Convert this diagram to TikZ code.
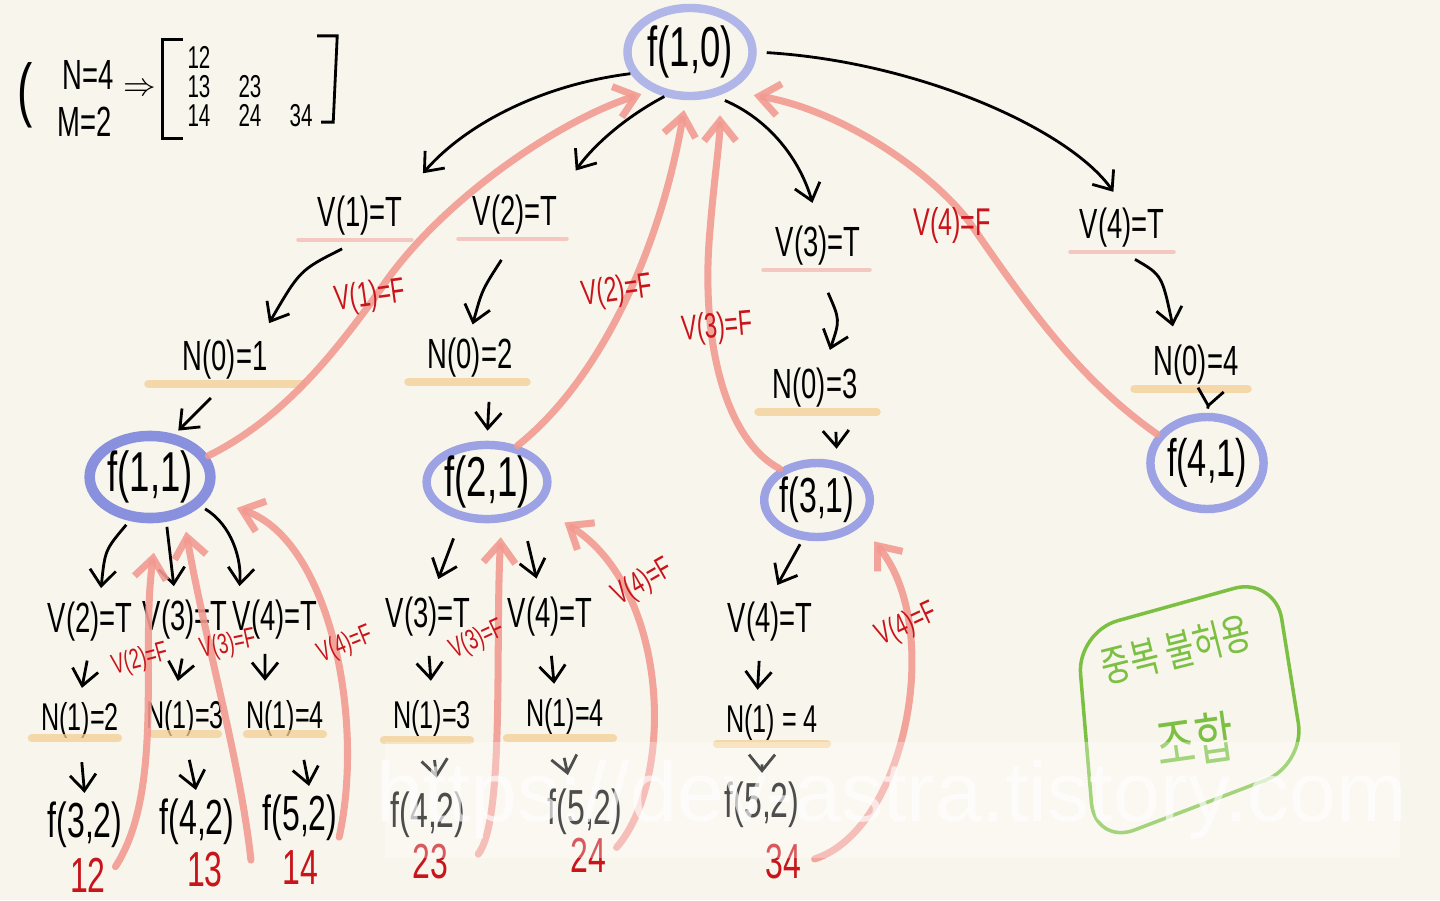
\documentclass[tikz,border=0pt]{standalone}
\usepackage{fontspec}
\usepackage{xcolor}
\usetikzlibrary{arrows.meta, shapes.geometric}
\setmainfont{Liberation Sans}
\newfontfamily\hand{Liberation Sans}[FakeStretch=0.65]
\newfontfamily\kor{Noto Sans CJK KR}[FakeStretch=0.75]
\definecolor{paper}{HTML}{F8F6EC}
\definecolor{callblue}{HTML}{B1B6E8}
\definecolor{calldeep}{HTML}{8990DD}
\definecolor{callmid}{HTML}{9CA2E3}
\definecolor{backred}{HTML}{F29A92}
\definecolor{inkred}{HTML}{C8141A}
\definecolor{markpink}{HTML}{F3BDB6}
\definecolor{markorange}{HTML}{F4CE93}
\definecolor{boxgreen}{HTML}{7CC043}

\begin{document}
\begin{tikzpicture}[x=0.01cm, y=-0.01cm,
  call/.style={ellipse, draw=callmid, line width=2.4pt, inner sep=0pt,
    font=\hand\fontsize{16}{16}\selectfont},
  cond/.style={inner sep=1pt, font=\hand\fontsize{12}{12}\selectfont},
  count/.style={cond, font=\hand\fontsize{11}{11}\selectfont},
  leaf/.style={cond, font=\hand\fontsize{14}{14}\selectfont},
  flag/.style={inner sep=0pt, text=inkred, font=\hand\fontsize{10}{10}\selectfont},
  smallflag/.style={flag, font=\hand\fontsize{8}{8}\selectfont},
  pick/.style={inner sep=1pt, text=inkred, font=\hand\fontsize{14}{14}\selectfont},
  arrow/.style={-{Straight Barb[length=1.6mm, width=2.6mm]}, line width=0.8pt},
  back/.style={draw=backred, line width=2pt, line cap=round, opacity=0.9,
    -{Straight Barb[length=2mm, width=3.2mm]}},
  tmark/.style={markpink, line width=1.3pt, line cap=round, opacity=0.8},
  nmark/.style={markorange, line width=2.4pt, line cap=round, opacity=0.75},
  kortext/.style={inner sep=0pt, text=boxgreen, font=\kor\fontsize{12}{12}\selectfont}
]
\fill[paper] (0,0) rectangle (1440,900);
\useasboundingbox (0,0) rectangle (1440,900);

% N, M and the list of picks
\node[cond, font=\hand\fontsize{20}{20}\selectfont] (paren) at (25,95) {(};
\node[cond] (nval) at (88,75) {N=4};
\node[cond] (mval) at (85,122) {M=2};
\node[inner sep=0pt, font=\fontsize{9}{9}\selectfont] (gives) at (140,90) {$\Rightarrow$};
\node[inner sep=0pt, font=\hand\fontsize{9}{6.5}\selectfont] (combos) at (250,90)
  {\setlength{\tabcolsep}{4pt}\begin{tabular}{lll}12\\13&23\\14&24&34\end{tabular}};
\draw[line width=0.8pt] ([shift={(1mm,0.6mm)}]combos.north west) -- ([shift={(-1mm,0.6mm)}]combos.north west)
  -- ([shift={(-1mm,-0.4mm)}]combos.south west) -- ([shift={(1mm,-0.4mm)}]combos.south west);
\draw[line width=0.8pt] ([shift={(-1mm,1mm)}]combos.north east) -- ([shift={(1mm,1mm)}]combos.north east)
  -- ([shift={(0.6mm,1.2mm)}]combos.south east) -- ([shift={(-0.6mm,1.2mm)}]combos.south east);

% calls
\node[call, draw=callblue, minimum width=1.25cm, minimum height=0.88cm] (f10) at (690,52) {f(1,0)};
\node[call, draw=calldeep, line width=3pt, minimum width=1.1cm, minimum height=0.82cm] (f11) at (150,477) {f(1,1)};
\node[call, minimum width=1.15cm, minimum height=0.72cm] (f21) at (487,482) {f(2,1)};
\node[call, font=\hand\fontsize{14}{14}\selectfont, minimum width=1cm, minimum height=0.74cm] (f31) at (817,500) {f(3,1)};
\node[call, font=\hand\fontsize{15}{15}\selectfont, minimum width=1.12cm, minimum height=0.92cm] (f41) at (1207,463) {f(4,1)};

% first choices
\node[cond] (v1) at (360,216) {V(1)=T};
\node[cond] (v2) at (515,215) {V(2)=T};
\node[cond] (v3) at (818,246) {V(3)=T};
\node[cond] (v4) at (1122,228) {V(4)=T};
\node[cond] (n01) at (225,360) {N(0)=1};
\node[cond] (n02) at (470,358) {N(0)=2};
\node[cond] (n03) at (815,388) {N(0)=3};
\node[cond] (n04) at (1196,365) {N(0)=4};

\draw[tmark] ([xshift=-1.5mm]v1.south west) -- ([xshift=0.5mm]v1.south east);
\draw[tmark] ([xshift=-1mm]v2.south west) -- ([xshift=0.5mm]v2.south east);
\draw[tmark] ([xshift=-0.8mm]v3.south west) -- ([xshift=0.5mm]v3.south east);
\draw[tmark] ([xshift=-0.5mm]v4.south west) -- ([xshift=0.5mm]v4.south east);
\draw[nmark] ([xshift=-3mm]n01.south west) -- ([xshift=3mm]n01.south east);
\draw[nmark] ([xshift=-1.5mm]n02.south west) -- ([xshift=1mm]n02.south east);
\draw[nmark] ([xshift=-1mm]n03.south west) -- ([xshift=1.5mm]n03.south east);
\draw[nmark] ([xshift=-1.5mm]n04.south west) -- ([xshift=0.5mm]n04.south east);

\draw[arrow, shorten >=2.5mm] (f10.200) .. controls (540,85) and (465,125) .. (v1.north east);
\draw[arrow, shorten >=2.5mm] (f10.240) .. controls (620,120) and (590,150) .. (v2.north east);
\draw[arrow, shorten <=1mm, shorten >=2mm] (f10.300) .. controls (770,120) and (800,160) .. (v3.north);
\draw[arrow, shorten <=1mm, shorten >=1.5mm] (f10.east) .. controls (920,62) and (1070,130) .. (v4.north);
\draw[arrow, shorten <=2mm, shorten >=1.5mm] (v1.south) .. controls (300,270) .. ([xshift=-1mm]n01.north east);
\draw[arrow, shorten <=2.5mm, shorten >=1mm] (v2.south) .. controls (482,290) .. (n02.north);
\draw[arrow, shorten <=2.5mm, shorten >=1.5mm] (v3.south) .. controls (840,320) .. ([xshift=1mm]n03.north);
\draw[arrow, shorten <=1.5mm, shorten >=1.5mm] (v4.south) .. controls (1162,275) .. ([xshift=-2mm]n04.north);
\draw[arrow, shorten <=2mm, shorten >=0.5mm] (n01.south) -- (f11.60);
\draw[arrow, shorten <=2mm, shorten >=1mm] ([xshift=2mm]n02.south) -- (f21.north);
\draw[arrow, shorten <=2mm, shorten >=1mm] ([xshift=2mm]n03.south) -- ([xshift=2mm]f31.north);
\draw[arrow, shorten <=2mm, shorten >=0.5mm] ([xshift=1.5mm]n04.south) -- (f41.north);

% back to f(1,0)
\draw[back, shorten >=1mm] (f11.20) .. controls (280,420) and (330,360) .. (380,290)
  .. controls (440,200) and (560,120) .. (f10.225);
\draw[back, shorten >=1mm] (f21.50) .. controls (600,380) and (660,250) .. (f10.265);
\draw[back, shorten >=1.5mm] (f31.140) .. controls (725,440) and (700,340) .. (710,230)
  .. controls (714,180) and (720,140) .. ([xshift=3mm]f10.south);
\draw[back, shorten >=2.5mm] (f41.150) .. controls (1080,380) and (1030,310) .. (970,223)
  .. controls (930,170) and (840,110) .. (f10.315);
\node[flag, rotate=8] (b1) at (370,297) {V(1)=F};
\node[flag, rotate=8] (b2) at (617,292) {V(2)=F};
\node[flag, rotate=5] (b3) at (717,328) {V(3)=F};
\node[flag, font=\hand\fontsize{11}{11}\selectfont] (b4) at (952,225) {V(4)=F};

% second choices under f(1,1)
\node[cond] (v12) at (90,622) {V(2)=T};
\node[cond] (v13) at (185,620) {V(3)=T};
\node[cond] (v14) at (275,620) {V(4)=T};
\node[count] (n12) at (80,720) {N(1)=2};
\node[count] (n13) at (185,718) {N(1)=3};
\node[count] (n14) at (285,718) {N(1)=4};
\node[leaf] (f32) at (85,825) {f(3,2)};
\node[leaf] (f42a) at (197,822) {f(4,2)};
\node[leaf] (f52a) at (300,818) {f(5,2)};
\node[pick] (c12) at (88,875) {12};
\node[pick] (c13) at (205,870) {13};
\node[pick] (c14) at (300,868) {14};

% second choices under f(2,1)
\node[cond] (v23) at (428,617) {V(3)=T};
\node[cond] (v24) at (550,617) {V(4)=T};
\node[count] (n23) at (432,718) {N(1)=3};
\node[count] (n24) at (565,716) {N(1)=4};
\node[leaf] (f42b) at (428,815) {f(4,2)};
\node[leaf] (f52b) at (585,812) {f(5,2)};
\node[pick] (c23) at (430,862) {23};
\node[pick] (c24) at (588,855) {24};

% second choice under f(3,1)
\node[cond] (v34) at (770,622) {V(4)=T};
\node[count] (n34) at (772,722) {N(1) = 4};
\node[leaf] (f52c) at (762,805) {f(5,2)};
\node[pick] (c34) at (783,862) {34};

\draw[nmark] ([xshift=-0.5mm,yshift=0.4mm]n12.south west) -- ([xshift=-0.5mm,yshift=0.4mm]n12.south east);
\draw[nmark] ([xshift=1mm,yshift=0.6mm]n13.south west) -- ([xshift=-1mm,yshift=0.6mm]n13.south east);
\draw[nmark] ([xshift=0.5mm,yshift=0.6mm]n14.south west) -- ([xshift=-0.5mm,yshift=0.6mm]n14.south east);
\draw[nmark] ([xshift=-0.5mm]n23.south west) -- ([xshift=-0.5mm]n23.south east);
\draw[nmark] ([xshift=-1.5mm]n24.south west) -- ([xshift=0.5mm]n24.south east);
\draw[nmark] ([xshift=-0.5mm]n34.south west) -- ([xshift=0.5mm]n34.south east);

\draw[arrow, shorten <=0.5mm, shorten >=1mm] (f11.245) .. controls (105,550) .. ([xshift=1mm]v12.north);
\draw[arrow, shorten <=0.5mm, shorten >=1mm] (f11.290) -- ([xshift=-1mm]v13.north);
\draw[arrow, shorten <=0.5mm, shorten >=1mm] (f11.330) .. controls (232,525) and (242,560) .. ([xshift=1mm]v14.north west);
\draw[arrow, shorten <=1.5mm, shorten >=1mm] (v12.south) -- (n12.north);
\draw[arrow, shorten <=1.5mm, shorten >=1.5mm] (v13.south) -- ([xshift=-1mm]n13.north);
\draw[arrow, shorten <=1mm, shorten >=1.5mm] ([xshift=-1mm]v14.south) -- ([xshift=-2mm]n14.north);
\draw[arrow, shorten <=2mm, shorten >=0.5mm] (n12.south) -- (f32.north);
\draw[arrow, shorten <=2mm, shorten >=0.5mm] (n13.south) -- (f42a.north);
\draw[arrow, shorten <=2mm, shorten >=0.5mm] ([xshift=1.5mm]n14.south) -- ([xshift=1mm]f52a.north);

\draw[arrow, shorten <=2mm, shorten >=1.5mm] (f21.235) -- ([xshift=0.5mm]v23.north);
\draw[arrow, shorten <=2.5mm, shorten >=1.5mm] (f21.315) -- ([xshift=-1mm]v24.north);
\draw[arrow, shorten <=1.5mm, shorten >=1.5mm] (v23.south) -- (n23.north);
\draw[arrow, shorten <=1.5mm, shorten >=1mm] (v24.south) -- ([xshift=-1mm]n24.north);
\draw[arrow, shorten <=2mm, shorten >=1mm] (n23.south) -- ([xshift=1mm]f42b.north);
\draw[arrow, shorten <=2mm, shorten >=1mm] ([xshift=-0.5mm]n24.south) -- ([xshift=-1.5mm]f52b.north);

\draw[arrow, shorten <=0.5mm, shorten >=1.5mm] (f31.250) -- (v34.north);
\draw[arrow, shorten <=1.5mm, shorten >=1mm] ([xshift=-1mm]v34.south) -- ([xshift=-1.5mm]n34.north);
\draw[arrow, shorten <=2mm, shorten >=0.5mm] ([xshift=-1mm]n34.south) -- (f52c.north);

% back to f(1,1), f(2,1), f(3,1)
\draw[back, shorten <=1mm, shorten >=3mm] (c12.east) .. controls (165,790) and (140,650) .. (f11.280);
\draw[back, shorten <=1mm, shorten >=1.5mm] ([xshift=2.5mm]c13.east) .. controls (240,760) and (205,640) .. (f11.310);
\draw[back, shorten <=1mm, shorten >=3mm] ([xshift=1.5mm]c14.north east) .. controls (365,720) and (330,540) .. (f11.340);
\draw[back, shorten <=1mm, shorten >=1.5mm] ([xshift=2mm]c23.east) .. controls (505,820) and (495,640) .. (f21.290);
\draw[back, shorten <=1mm, shorten >=3mm] (c24.east) .. controls (675,780) and (670,590) .. (f21.335);
\draw[back, shorten <=1mm, shorten >=2mm] (c34.east) .. controls (905,830) and (945,630) .. (f31.330);
\node[smallflag, rotate=15] (b12) at (140,660) {V(2)=F};
\node[smallflag, rotate=12] (b13) at (228,645) {V(3)=F};
\node[smallflag, rotate=22] (b14) at (345,645) {V(4)=F};
\node[smallflag, rotate=25] (b23) at (477,640) {V(3)=F};
\node[flag, font=\hand\fontsize{9}{9}\selectfont, rotate=30] (b24) at (643,583) {V(4)=F};
\node[flag, font=\hand\fontsize{9}{9}\selectfont, rotate=25] (b34) at (907,625) {V(4)=F};

% note
\draw[boxgreen, line width=1pt, rounded corners=12pt] (1077,632) -- (1275,577) -- (1305,765) -- (1095,845) -- cycle;
\node[kortext, rotate=14] (rule1) at (1176,650) {중복 불허용};
\node[kortext, font=\kor\fontsize{16}{16}\selectfont, rotate=8] (rule2) at (1195,740) {조합};

% watermark
\fill[white, opacity=0.3] (385,742) rectangle (1400,858);
\node[inner sep=0pt, text=white, opacity=0.65, font=\fontsize{24}{24}\selectfont] (site) at (892,800) {https://dev-astra.tistory.com};
\end{tikzpicture}
\end{document}
